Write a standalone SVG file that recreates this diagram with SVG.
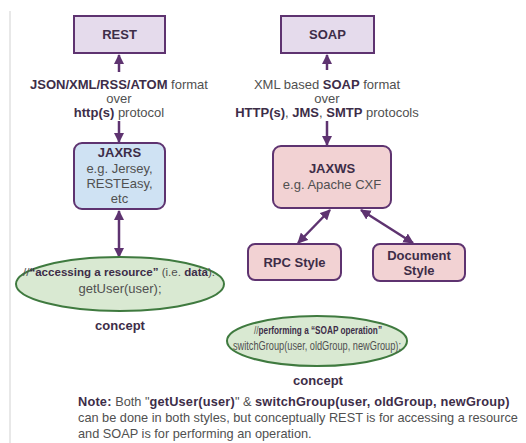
<svg xmlns="http://www.w3.org/2000/svg" width="526" height="443" viewBox="0 0 526 443">
<style>
text{font-family:"Liberation Sans",Arial,sans-serif;fill:#505050;font-size:13px;text-anchor:middle}
.b{font-weight:bold;fill:#3d2d48}
.box{stroke:#5e3370;stroke-width:2}
.rest{fill:#e5dbec}
.jaxrs{fill:#cfe2f3}
.pink{fill:#f2d2d3}
.ell{fill:#d9e9d2;stroke:#3f7a3f;stroke-width:2}
.con{stroke:#5e3370;stroke-width:2.5;fill:none}
.note{text-anchor:start;font-size:12.75px}
.note .b{letter-spacing:0.2px}
</style>
<defs>
<marker id="ah" viewBox="0 0 10 10" refX="9" refY="5" markerWidth="4.2" markerHeight="4.4" orient="auto-start-reverse" markerUnits="strokeWidth">
<path d="M0,0 L10,5 L0,10 z" fill="#5e3370"/>
</marker>
</defs>
<rect width="526" height="443" fill="#ffffff"/>
<line x1="10" y1="11" x2="10" y2="443" stroke="#e8e8e8" stroke-width="2"/>
<g id="connectors">
<line class="con" x1="119" y1="72" x2="119" y2="55" marker-end="url(#ah)"/>
<line class="con" x1="119" y1="121" x2="119" y2="142" marker-end="url(#ah)"/>
<line class="con" x1="119" y1="211" x2="119" y2="257" marker-start="url(#ah)" marker-end="url(#ah)"/>
<line class="con" x1="327" y1="70" x2="327" y2="55" marker-end="url(#ah)"/>
<line class="con" x1="327" y1="121" x2="327" y2="145" marker-end="url(#ah)"/>
<line class="con" x1="330" y1="210" x2="298" y2="243" marker-start="url(#ah)" marker-end="url(#ah)"/>
<line class="con" x1="361" y1="210" x2="413" y2="243" marker-start="url(#ah)" marker-end="url(#ah)"/>
</g>
<g id="rest">
<rect class="box rest" x="74" y="16" width="91" height="37"/>
<text class="b" x="119.5" y="39">REST</text>
</g>
<g id="rest-label">
<text x="119" y="89"><tspan class="b">JSON/XML/RSS/ATOM</tspan> format</text>
<text x="119" y="103">over</text>
<text x="119" y="117"><tspan class="b">http(s)</tspan> protocol</text>
</g>
<g id="jaxrs">
<rect class="box jaxrs" x="74" y="143" width="91" height="66" rx="8"/>
<text class="b" x="119.5" y="157">JAXRS</text>
<text x="119.5" y="173">e.g. Jersey,</text>
<text x="119.5" y="188">RESTEasy,</text>
<text x="119.5" y="203">etc</text>
</g>
<g id="rest-concept">
<ellipse class="ell" cx="120" cy="284" rx="104" ry="27"/>
<text x="119" y="276" style="font-size:11.5px" textLength="192" lengthAdjust="spacingAndGlyphs">//<tspan class="b">“accessing a resource”</tspan> (i.e. <tspan class="b">data</tspan>).</text>
<text x="120" y="293">getUser(user);</text>
<text class="b" x="120" y="330">concept</text>
</g>
<g id="soap">
<rect class="box rest" x="281" y="16" width="93" height="37"/>
<text class="b" x="327.5" y="39">SOAP</text>
</g>
<g id="soap-label">
<text x="327" y="89">XML based <tspan class="b">SOAP</tspan> format</text>
<text x="327" y="103">over</text>
<text x="327" y="117"><tspan class="b">HTTP(s)</tspan>, <tspan class="b">JMS</tspan>, <tspan class="b">SMTP</tspan> protocols</text>
</g>
<g id="jaxws">
<rect class="box pink" x="273" y="146" width="118" height="62" rx="8"/>
<text class="b" x="332" y="173">JAXWS</text>
<text x="332" y="189">e.g. Apache CXF</text>
</g>
<g id="rpc">
<rect class="box pink" x="248" y="244" width="93" height="36" rx="7"/>
<text class="b" x="294.5" y="267">RPC Style</text>
</g>
<g id="document">
<rect class="box pink" x="373" y="244" width="92" height="37" rx="7"/>
<text class="b" x="419" y="260">Document</text>
<text class="b" x="419" y="275">Style</text>
</g>
<g id="soap-concept">
<ellipse class="ell" cx="317" cy="341" rx="90" ry="25"/>
<text x="318" y="334" style="font-size:11px" textLength="128" lengthAdjust="spacingAndGlyphs">//<tspan class="b">performing a “SOAP operation”</tspan></text>
<text x="317" y="350" style="font-size:12px" textLength="168" lengthAdjust="spacingAndGlyphs">switchGroup(user, oldGroup, newGroup);</text>
<text class="b" x="318" y="385">concept</text>
</g>
<g id="note">
<text class="note" x="78" y="406"><tspan class="b">Note:</tspan> Both "<tspan class="b">getUser(user)</tspan>" &amp; <tspan class="b">switchGroup(user, oldGroup, newGroup)</tspan></text>
<text class="note" x="78" y="422">can be done in both styles, but conceptually REST is for accessing a resource</text>
<text class="note" x="78" y="438">and SOAP is for performing an operation.</text>
</g>
</svg>
